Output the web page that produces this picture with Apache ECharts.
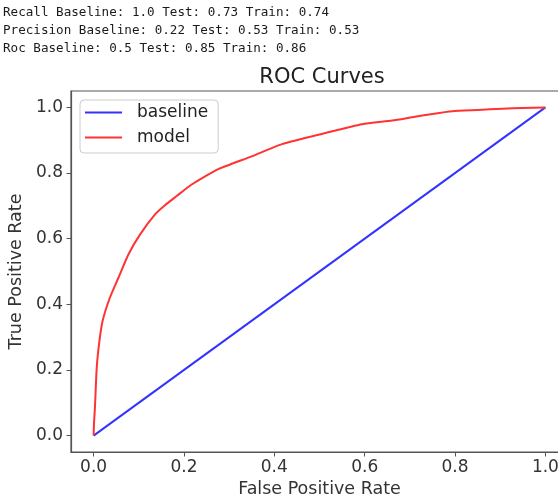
<!DOCTYPE html>
<html>
<head>
<meta charset="utf-8">
<script src="https://cdn.jsdelivr.net/npm/echarts@6/dist/echarts.min.js"></script>
<style>
html,body{margin:0;padding:0;background:#fff;}
#c{width:558px;height:499px;}
</style>
</head>
<body>
<div id="c"></div>
<script>
// ---- data ----
const headerLines = [
  "Recall Baseline: 1.0 Test: 0.73 Train: 0.74",
  "Precision Baseline: 0.22 Test: 0.53 Train: 0.53",
  "Roc Baseline: 0.5 Test: 0.85 Train: 0.86"
];
const titleText = "ROC Curves";
const seriesNames = ["baseline", "model"];
const baselineFpr = [0, 1];
const baselineTpr = [0, 1];
const modelFpr = [0, 0.001, 0.003, 0.007, 0.013, 0.020, 0.036, 0.055, 0.077, 0.103, 0.136, 0.158, 0.184, 0.217, 0.247, 0.276, 0.350, 0.417, 0.513, 0.594, 0.661, 0.705, 0.750, 0.794, 0.850, 0.905, 0.950, 1.0];
const modelTpr = [0, 0.040, 0.086, 0.208, 0.289, 0.350, 0.420, 0.481, 0.552, 0.613, 0.674, 0.702, 0.730, 0.765, 0.790, 0.812, 0.851, 0.888, 0.922, 0.949, 0.960, 0.970, 0.980, 0.988, 0.992, 0.996, 0.998, 1.0];
const xTicks = [0, 0.2, 0.4, 0.6, 0.8, 1.0];
const yTicks = [0, 0.2, 0.4, 0.6, 0.8, 1.0];
const xLabel = "False Positive Rate";
const yLabel = "True Positive Rate";

const zip = (a, b) => a.map((v, i) => [v, b[i]]);
const font = "'DejaVu Sans', sans-serif";
const axisColor = "#333";

const chart = echarts.init(document.getElementById('c'), null, {renderer: 'canvas'});
const axisCommon = {
  type: 'value',
  min: -0.05, max: 1.05,
  splitLine: {show: false},
  axisLine: {show: true, onZero: false, lineStyle: {color: '#555', width: 1.2}},
  axisTick: {show: true, inside: false, length: 4.5, lineStyle: {color: '#555', width: 1}},
  axisLabel: {show: true, fontFamily: font, fontSize: 17, color: axisColor, formatter: v => v.toFixed(1)},
  nameLocation: 'middle',
  nameTextStyle: {fontFamily: font, fontSize: 17.5, color: axisColor}
};
const option = {
  animation: false,
  backgroundColor: '#fff',
  title: {
    text: titleText, left: 317, top: 62, textAlign: 'center',
    textStyle: {fontFamily: font, fontSize: 21, fontWeight: 'normal', color: '#222'}
  },
  graphic: headerLines.map((t, i) => ({
    type: 'text', left: 3, top: 6 + i * 18,
    style: {text: t, font: "12.6px 'DejaVu Sans Mono', monospace", fill: '#1a1a1a'}
  })),
  grid: {left: 71, right: -10, top: 91, bottom: 47, show: true, borderColor: '#555', borderWidth: 1.2, backgroundColor: 'transparent', containLabel: false, outerBoundsMode: 'none'},
  xAxis: Object.assign({}, axisCommon, {
    name: xLabel, nameGap: 27,
    axisTick: Object.assign({}, axisCommon.axisTick, {customValues: xTicks}),
    axisLabel: Object.assign({}, axisCommon.axisLabel, {customValues: xTicks, margin: 7})
  }),
  yAxis: Object.assign({}, axisCommon, {
    name: yLabel, nameGap: 42,
    axisTick: Object.assign({}, axisCommon.axisTick, {customValues: yTicks}),
    axisLabel: Object.assign({}, axisCommon.axisLabel, {customValues: yTicks, margin: 8})
  }),
  legend: {
    orient: 'vertical', left: 80, top: 100,
    data: seriesNames,
    icon: 'rect',
    itemWidth: 37, itemHeight: 2, itemGap: 8,
    padding: [4, 10, 7, 5],
    borderColor: '#ccc', borderWidth: 1, borderRadius: 4,
    backgroundColor: 'rgba(255,255,255,0.8)',
    textStyle: {fontFamily: font, fontSize: 17, color: '#222', lineHeight: 17, padding: [0, 0, 0, 10]}
  },
  series: [
    {name: seriesNames[0], type: 'line', data: zip(baselineFpr, baselineTpr), symbol: 'none', lineStyle: {color: '#3333ff', width: 2}, itemStyle: {color: '#3333ff'}, z: 2},
    {name: seriesNames[1], type: 'line', data: zip(modelFpr, modelTpr), symbol: 'none', smooth: 0.2, lineStyle: {color: '#ff3333', width: 2}, itemStyle: {color: '#ff3333'}, z: 3}
  ]
};
chart.setOption(option);
</script>
</body>
</html>
